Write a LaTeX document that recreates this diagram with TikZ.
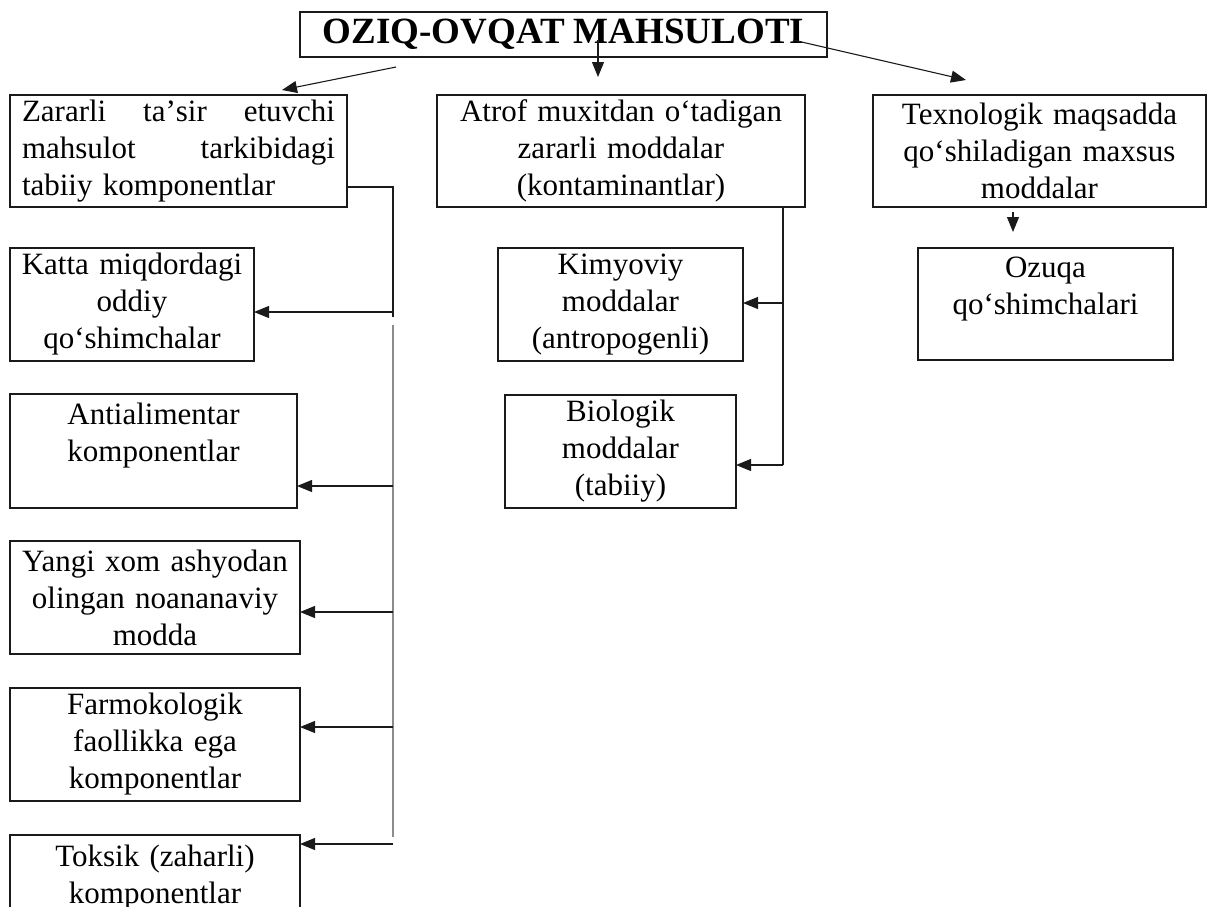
\documentclass[tikz,border=0pt]{standalone}
\usepackage{fontspec}
\setmainfont{Liberation Serif}
\usetikzlibrary{calc,arrows.meta,positioning}
\definecolor{qora}{HTML}{1A1A1A}
\definecolor{kulrang}{HTML}{8C8C8C}
\tikzset{
  quti/.style={draw=qora,line width=1.2pt,anchor=north west,outer sep=0pt,
               inner xsep=4pt,inner ysep=0pt,align=center,
               font=\fontsize{31}{37}\selectfont},
  strelka/.style={-{Triangle[length=15pt,width=12pt]},qora,line width=1.1pt},
  chiziq/.style={qora,line width=1.1pt}
}
\begin{document}
\begin{tikzpicture}[x=1pt,y=-1pt,line cap=butt]
        \path[use as bounding box] (0,0) rectangle (1219,906);
        \clip (0,0) rectangle (1219,906);
        % sarlavha
        \node[quti,font=\bfseries\fontsize{37}{44}\selectfont,
              minimum width=527pt,minimum height=45pt] (sarlavha) at (300,12) {OZIQ-OVQAT MAHSULOTI};
        % uch ustun
        \node[quti,text width=313pt,inner xsep=12pt,align=left,minimum height=112pt] (zarar) at (10,95)
              {Zararli\hfill taʼsir\hfill etuvchi\\mahsulot\hfill tarkibidagi\\tabiiy komponentlar};
        \node[quti,text width=360pt,minimum height=112pt] (atrof) at (437,95)
              {Atrof muxitdan oʻtadigan\\zararli moddalar\\(kontaminantlar)};
        \node[quti,text width=325pt,minimum height=112pt] (texno) at (873,95)
              {Texnologik maqsadda\\qoʻshiladigan maxsus\\moddalar};
        % chap ustun
        \node[quti,text width=236pt,minimum height=113pt] (katta) at (10,248) {Katta miqdordagi\\oddiy\\qoʻshimchalar};
        \node[quti,text width=279pt,minimum height=114pt] (anti) at (10,394) {Antialimentar\\komponentlar\\~};
        \node[quti,text width=282pt,minimum height=113pt] (yangi) at (10,541) {Yangi xom ashyodan\\olingan noananaviy\\modda};
        \node[quti,text width=282pt,minimum height=113pt] (farm) at (10,688) {Farmokologik\\faollikka ega\\komponentlar};
        \node[quti,text width=282pt,minimum height=115pt] (toksik) at (10,835) {Toksik (zaharli)\\komponentlar\\~};
        % o'rta va o'ng ustun
        \node[quti,text width=237pt,minimum height=113pt] (kimyo) at (498,248) {Kimyoviy\\moddalar\\(antropogenli)};
        \node[quti,text width=223pt,minimum height=113pt] (bio) at (505,395) {Biologik\\moddalar\\(tabiiy)};
        \node[quti,text width=247pt,minimum height=112pt] (ozuqa) at (918,248) {Ozuqa\\qoʻshimchalari\\~};
        % sarlavhadan strelkalar
        \coordinate (s1) at ($(sarlavha.south west)+(96,10)$);
        \coordinate (s2) at ($(sarlavha.north west)+(298,28)$);
        \coordinate (s3) at ($(sarlavha.north east)+(-34,28)$);
        \coordinate (z1) at ($(zarar.north east)+(-65,-5)$);
        \coordinate (a1) at ($(atrof.north west)+(161,-18)$);
        \coordinate (t1) at ($(texno.north west)+(93,-15)$);
        \draw[strelka] (s1) -- (z1);
        \draw[strelka] (s2) -- (a1);
        \draw[strelka] (s3) -- (t1);
        \coordinate (t2) at ($(texno.south west)+(140,5)$);
        \coordinate (o1) at ($(ozuqa.north west)+(95,-16)$);
        \draw[strelka] (t2) -- (o1);
        % chap tarmoq
        \coordinate (z2) at ($(zarar.south east)+(0,-20)$);
        \coordinate (z3) at ($(z2)+(46,0)$);
        \coordinate (z4) at ($(z3)+(0,130)$);
        \coordinate (z5) at ($(z3)+(0,138)$);
        \coordinate (z6) at ($(z3)+(0,650)$);
        \draw[chiziq] (z2) -- (z3) -- (z4);
        \draw[kulrang,line width=1.5pt] (z5) -- (z6);
        \foreach \q/\y in {katta/312,anti/486,yangi/612,farm/727,toksik/844}{
          \draw[strelka] (z3 |- 0,\y) -- (\q.east |- 0,\y);
        }
        % o'rta tarmoq
        \coordinate (a2) at ($(atrof.south west)+(346,0)$);
        \coordinate (a3) at ($(a2)+(0,258)$);
        \draw[chiziq] (a2) -- (a3);
        \foreach \q/\y in {kimyo/303,bio/465}{
          \draw[strelka] (a2 |- 0,\y) -- (\q.east |- 0,\y);
        }
\end{tikzpicture}
\end{document}
